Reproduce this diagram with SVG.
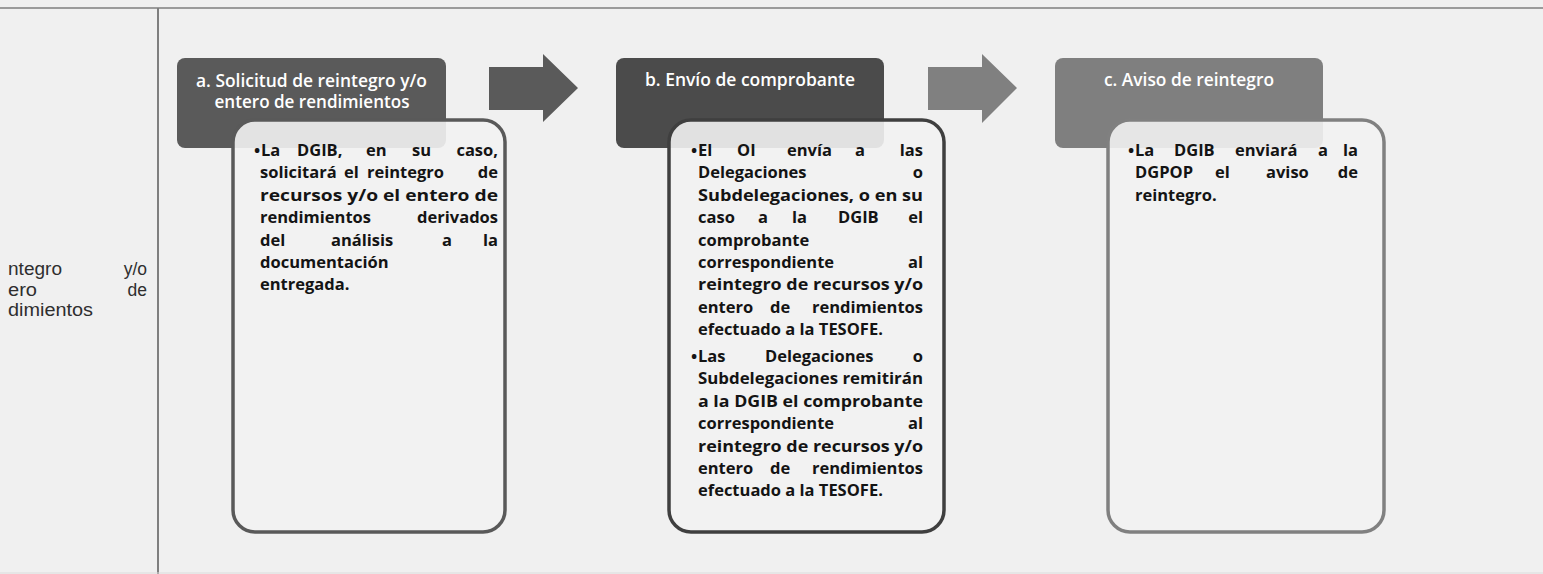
<svg xmlns="http://www.w3.org/2000/svg" width="1543" height="574" viewBox="0 0 1543 574">
<style>
.bg{fill:#f0f0f0}
.rule{stroke:#7f7f7f;fill:none}
.hdr-t{font-family:"Open Sans","Liberation Sans",sans-serif;font-weight:600;font-size:17.5px;fill:#ffffff;text-anchor:middle}
.body{fill:#f2f2f2;fill-opacity:0.9;stroke-width:3.5}
.bt{font-family:"Open Sans","Liberation Sans",sans-serif;font-weight:bold;font-size:16.5px;fill:#141414}
.e{text-anchor:end}
.lt{font-family:"Liberation Sans",Arial,sans-serif;font-size:17.5px;fill:#2e2e2e}
</style>
<rect class="bg" x="0" y="0" width="1543" height="574"/>
<line class="rule" x1="0" y1="8" x2="1543" y2="8" stroke-width="1.5"/>
<line class="rule" x1="158" y1="8" x2="158" y2="574" stroke-width="2"/>
<line x1="0" y1="573" x2="1543" y2="573" stroke="#dcdcdc" stroke-width="1"/>

<g id="lane-label">
<text class="lt" x="8" y="275" textLength="54" lengthAdjust="spacingAndGlyphs">ntegro</text>
<text class="lt e" x="147" y="275">y/o</text>
<text class="lt" x="8" y="295.5" textLength="29" lengthAdjust="spacingAndGlyphs">ero</text>
<text class="lt e" x="147" y="295.5">de</text>
<text class="lt" x="8" y="316" textLength="85" lengthAdjust="spacingAndGlyphs">dimientos</text>
</g>

<g id="connectors">
<polygon points="489,67 543,67 543,54 578,88 543,122 543,110 489,110" fill="#5a5a5a"/>
<polygon points="928,67 982,67 982,54 1017,88 982,123 982,110 928,110" fill="#808080"/>
</g>

<g id="node-a">
<rect x="177" y="58" width="269" height="90" rx="8" fill="#5a5a5a"/>
<text class="hdr-t" x="311.5" y="87" textLength="231" lengthAdjust="spacingAndGlyphs">a. Solicitud de reintegro y/o</text>
<text class="hdr-t" x="312" y="108" textLength="195" lengthAdjust="spacingAndGlyphs">entero de rendimientos</text>
<rect class="body" x="233" y="120" width="272" height="412" rx="22" stroke="#595959"/>
<text class="bt" x="254" y="156">•</text>
<text class="bt" x="261" y="156">La</text>
<text class="bt" x="297" y="156">DGIB,</text>
<text class="bt" x="366" y="156">en</text>
<text class="bt" x="412" y="156">su</text>
<text class="bt e" x="498" y="156">caso,</text>
<text class="bt" x="260" y="178.4">solicitará</text>
<text class="bt" x="344" y="178.4">el</text>
<text class="bt" x="367" y="178.4">reintegro</text>
<text class="bt e" x="498" y="178.4">de</text>
<text class="bt" x="260" y="200.8" textLength="238" lengthAdjust="spacingAndGlyphs">recursos y/o el entero de</text>
<text class="bt" x="260" y="223.2">rendimientos</text>
<text class="bt e" x="498" y="223.2">derivados</text>
<text class="bt" x="260" y="245.6">del</text>
<text class="bt" x="331" y="245.6">análisis</text>
<text class="bt" x="442" y="245.6">a</text>
<text class="bt e" x="498" y="245.6">la</text>
<text class="bt" x="260" y="268">documentación</text>
<text class="bt" x="260" y="290.4">entregada.</text>
</g>

<g id="node-b">
<rect x="616" y="58" width="268" height="90" rx="8" fill="#4b4b4b"/>
<text class="hdr-t" x="750" y="86" textLength="210" lengthAdjust="spacingAndGlyphs">b. Envío de comprobante</text>
<rect class="body" x="669" y="120" width="275" height="412" rx="22" stroke="#3f3f3f"/>
<text class="bt" x="691" y="156">•</text>
<text class="bt" x="698" y="156">El</text>
<text class="bt" x="737" y="156">OI</text>
<text class="bt" x="787" y="156">envía</text>
<text class="bt" x="855" y="156">a</text>
<text class="bt e" x="923" y="156">las</text>
<text class="bt" x="698" y="178.4">Delegaciones</text>
<text class="bt e" x="923" y="178.4">o</text>
<text class="bt" x="698" y="200.8" textLength="225" lengthAdjust="spacingAndGlyphs">Subdelegaciones, o en su</text>
<text class="bt" x="698" y="223.2">caso</text>
<text class="bt" x="758" y="223.2">a</text>
<text class="bt" x="792" y="223.2">la</text>
<text class="bt" x="838" y="223.2">DGIB</text>
<text class="bt e" x="923" y="223.2">el</text>
<text class="bt" x="698" y="245.6">comprobante</text>
<text class="bt" x="698" y="268">correspondiente</text>
<text class="bt e" x="923" y="268">al</text>
<text class="bt" x="698" y="290.4" textLength="225" lengthAdjust="spacingAndGlyphs">reintegro de recursos y/o</text>
<text class="bt" x="698" y="312.8">entero</text>
<text class="bt" x="770" y="312.8">de</text>
<text class="bt e" x="923" y="312.8">rendimientos</text>
<text class="bt" x="698" y="335.2">efectuado a la TESOFE.</text>
<text class="bt" x="691" y="362">•</text>
<text class="bt" x="698" y="362">Las</text>
<text class="bt" x="765" y="362">Delegaciones</text>
<text class="bt e" x="923" y="362">o</text>
<text class="bt" x="698" y="384.4" textLength="225" lengthAdjust="spacingAndGlyphs">Subdelegaciones remitirán</text>
<text class="bt" x="698" y="406.8" textLength="225" lengthAdjust="spacingAndGlyphs">a la DGIB  el comprobante</text>
<text class="bt" x="698" y="429.2">correspondiente</text>
<text class="bt e" x="923" y="429.2">al</text>
<text class="bt" x="698" y="451.6" textLength="225" lengthAdjust="spacingAndGlyphs">reintegro de recursos y/o</text>
<text class="bt" x="698" y="474">entero</text>
<text class="bt" x="770" y="474">de</text>
<text class="bt e" x="923" y="474">rendimientos</text>
<text class="bt" x="698" y="496.4">efectuado a la TESOFE.</text>
</g>

<g id="node-c">
<rect x="1055" y="58" width="268" height="90" rx="8" fill="#7f7f7f"/>
<text class="hdr-t" x="1189" y="86" textLength="170" lengthAdjust="spacingAndGlyphs">c. Aviso de reintegro</text>
<rect class="body" x="1108" y="120" width="276" height="412" rx="22" stroke="#808080"/>
<text class="bt" x="1128" y="156">•</text>
<text class="bt" x="1135" y="156">La</text>
<text class="bt" x="1174" y="156">DGIB</text>
<text class="bt" x="1235" y="156">enviará</text>
<text class="bt" x="1318" y="156">a</text>
<text class="bt e" x="1358" y="156">la</text>
<text class="bt" x="1135" y="178.4">DGPOP</text>
<text class="bt" x="1215" y="178.4">el</text>
<text class="bt" x="1266" y="178.4">aviso</text>
<text class="bt e" x="1358" y="178.4">de</text>
<text class="bt" x="1135" y="200.8">reintegro.</text>
</g>
</svg>
